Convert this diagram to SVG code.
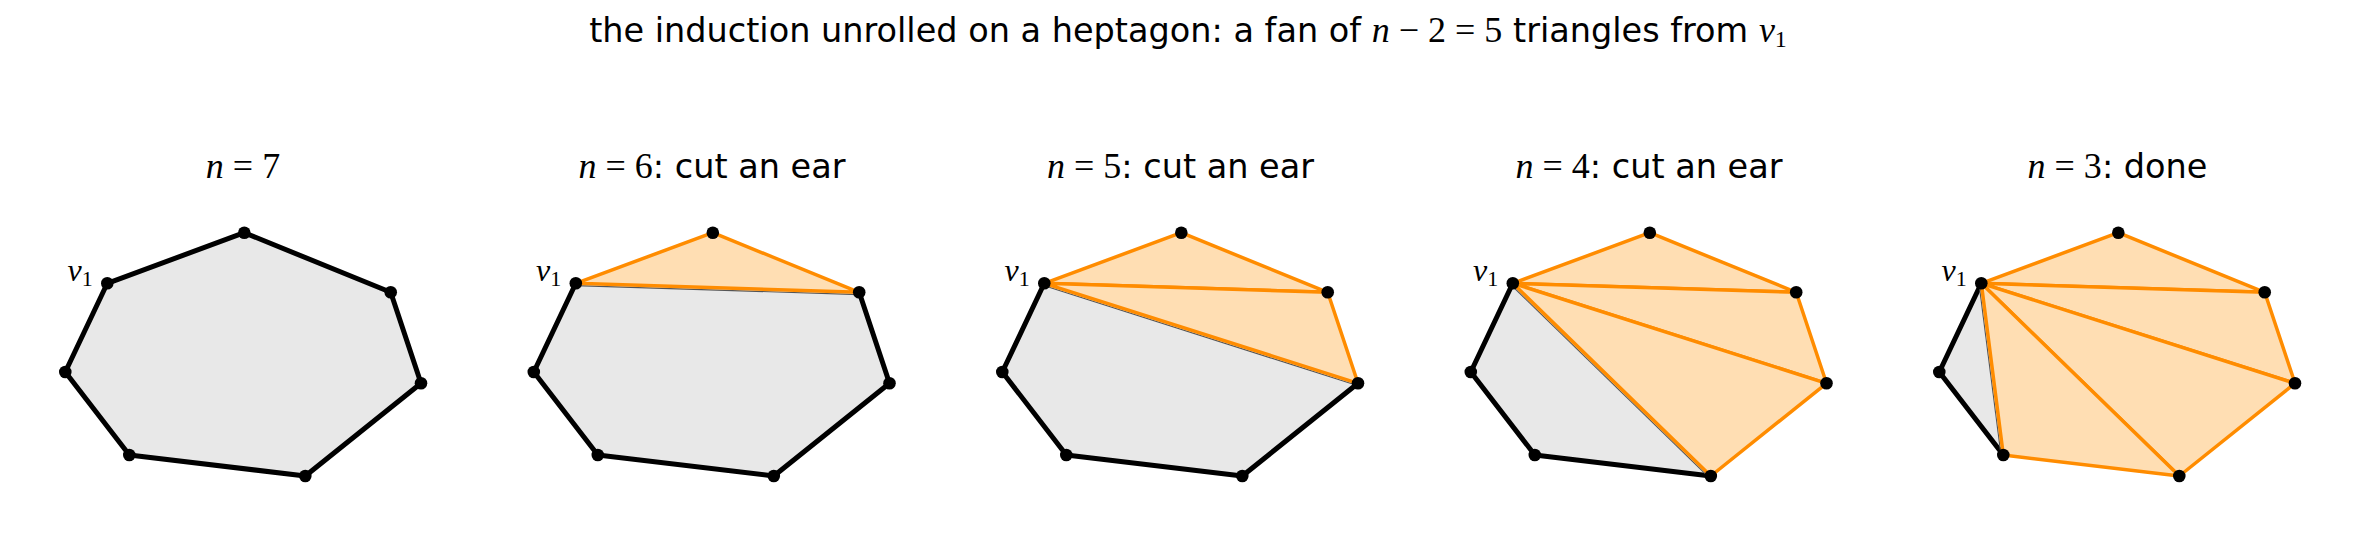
<svg xmlns="http://www.w3.org/2000/svg" width="2361" height="540" viewBox="0 0 2361 540">
<style>
.bg{fill:#ffffff}
.sans{font-family:"DejaVu Sans","Liberation Sans",sans-serif}
.mi{font-family:"Liberation Serif","DejaVu Serif",serif;font-style:italic;font-size:36px}
.mr{font-family:"Liberation Serif","DejaVu Serif",serif;font-style:normal;font-size:36px}
.title{font-size:33.5px;fill:#000}
.gray{fill:#e8e8e8;stroke:none}
.edge{fill:none;stroke:#000;stroke-width:5;stroke-linejoin:round;stroke-linecap:round}
.tri{fill:#ffdeb3;stroke:#ff8c00;stroke-width:3.5;stroke-linejoin:round;stroke-linecap:round}
.sliver{stroke:#555;stroke-width:1.1;fill:none}
.lab{font-size:32px}
</style>
<defs>
<g id="dots">
<circle cx="107.3" cy="283.3" r="6.3"/>
<circle cx="244.3" cy="232.7" r="6.3"/>
<circle cx="390.7" cy="292.3" r="6.3"/>
<circle cx="421" cy="383.3" r="6.3"/>
<circle cx="305.3" cy="476" r="6.3"/>
<circle cx="129.3" cy="455" r="6.3"/>
<circle cx="65.3" cy="372" r="6.3"/>
</g>
<polygon id="t1" points="107.3,283.3 244.3,232.7 390.7,292.3"/>
<polygon id="t2" points="107.3,283.3 390.7,292.3 421,383.3"/>
<polygon id="t3" points="107.3,283.3 421,383.3 305.3,476"/>
<polygon id="t4" points="107.3,283.3 305.3,476 129.3,455"/>
<g id="v1lab"><text x="67.5" y="281" class="mi lab" style="font-size:32px">v<tspan class="mr" style="font-size:22px" dy="4.5">1</tspan></text></g>
</defs>
<rect class="bg" x="0" y="0" width="2361" height="540"/>
<text id="suptitle" x="1188" y="42" text-anchor="middle" class="title"><tspan class="sans">the induction unrolled on a heptagon: a fan of </tspan><tspan class="mi">n</tspan><tspan class="mr"> − 2 = 5</tspan><tspan class="sans"> triangles from </tspan><tspan class="mi">v</tspan><tspan class="mr" style="font-size:24px" dy="5">1</tspan></text>

<g id="panel1">
<text x="243" y="178" text-anchor="middle" class="title"><tspan class="mi">n</tspan><tspan class="mr"> = 7</tspan></text>
<polygon class="gray" points="107.3,283.3 244.3,232.7 390.7,292.3 421,383.3 305.3,476 129.3,455 65.3,372"/>
<polygon class="edge" points="107.3,283.3 244.3,232.7 390.7,292.3 421,383.3 305.3,476 129.3,455 65.3,372"/>
<use href="#dots"/>
<use href="#v1lab"/>
</g>

<g id="panel2" transform="translate(468.5,0)">
<text x="243.5" y="178" text-anchor="middle" class="title"><tspan class="mi">n</tspan><tspan class="mr"> = 6</tspan><tspan class="sans">: cut an ear</tspan></text>
<polygon class="gray" points="107.3,283.3 390.7,292.3 421,383.3 305.3,476 129.3,455 65.3,372"/>
<polyline class="edge" points="390.7,292.3 421,383.3 305.3,476 129.3,455 65.3,372 107.3,283.3"/>
<line class="sliver" x1="107.2" y1="285.6" x2="390.6" y2="294.6"/>
<use href="#t1" class="tri"/>
<use href="#dots"/>
<use href="#v1lab"/>
</g>

<g id="panel3" transform="translate(937,0)">
<text x="243.5" y="178" text-anchor="middle" class="title"><tspan class="mi">n</tspan><tspan class="mr"> = 5</tspan><tspan class="sans">: cut an ear</tspan></text>
<polygon class="gray" points="107.3,283.3 421,383.3 305.3,476 129.3,455 65.3,372"/>
<polyline class="edge" points="421,383.3 305.3,476 129.3,455 65.3,372 107.3,283.3"/>
<line class="sliver" x1="106.6" y1="285.5" x2="420.3" y2="385.5"/>
<use href="#t1" class="tri"/>
<use href="#t2" class="tri"/>
<use href="#dots"/>
<use href="#v1lab"/>
</g>

<g id="panel4" transform="translate(1405.5,0)">
<text x="243.5" y="178" text-anchor="middle" class="title"><tspan class="mi">n</tspan><tspan class="mr"> = 4</tspan><tspan class="sans">: cut an ear</tspan></text>
<polygon class="gray" points="107.3,283.3 305.3,476 129.3,455 65.3,372"/>
<polyline class="edge" points="305.3,476 129.3,455 65.3,372 107.3,283.3"/>
<line class="sliver" x1="105.7" y1="285" x2="303.7" y2="477.7"/>
<use href="#t1" class="tri"/>
<use href="#t2" class="tri"/>
<use href="#t3" class="tri"/>
<use href="#dots"/>
<use href="#v1lab"/>
</g>

<g id="panel5" transform="translate(1874,0)">
<text x="243.5" y="178" text-anchor="middle" class="title"><tspan class="mi">n</tspan><tspan class="mr"> = 3</tspan><tspan class="sans">: done</tspan></text>
<polygon class="gray" points="107.3,283.3 129.3,455 65.3,372"/>
<polyline class="edge" points="129.3,455 65.3,372 107.3,283.3"/>
<line class="sliver" x1="105" y1="283.6" x2="127" y2="455.3"/>
<use href="#t1" class="tri"/>
<use href="#t2" class="tri"/>
<use href="#t3" class="tri"/>
<use href="#t4" class="tri"/>
<use href="#dots"/>
<use href="#v1lab"/>
</g>
</svg>
